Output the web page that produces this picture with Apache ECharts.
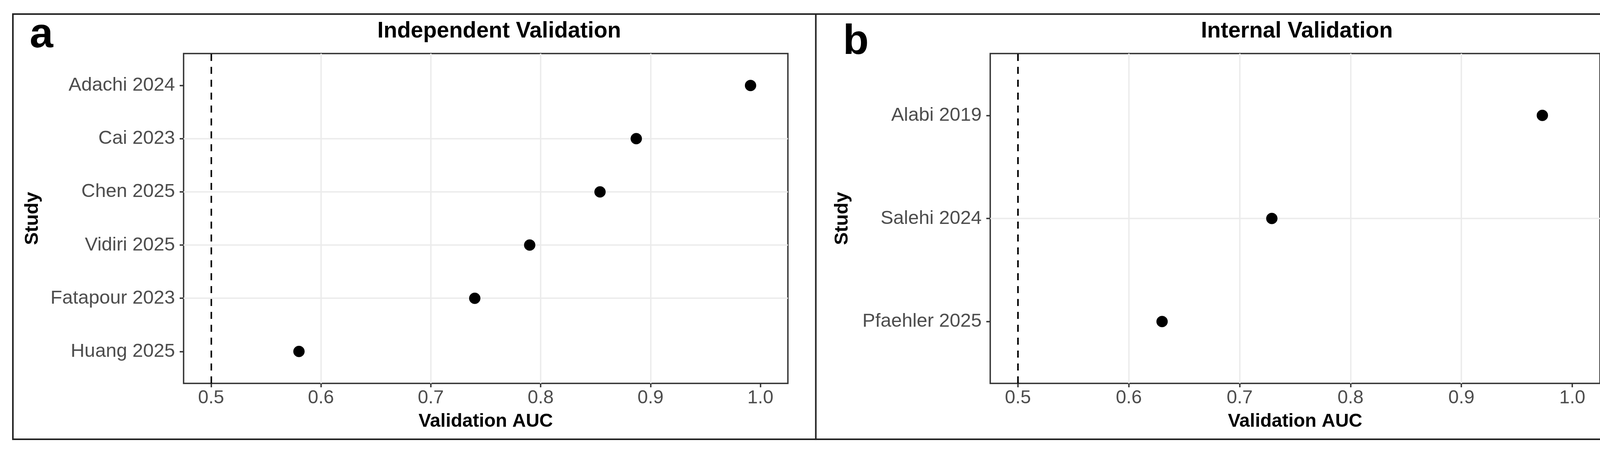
<!DOCTYPE html>
<html>
<head>
<meta charset="utf-8">
<script src="https://cdn.jsdelivr.net/npm/echarts@6/dist/echarts.min.js"></script>
<style>
  html, body { margin: 0; padding: 0; background: #fff; }
  #chart { width: 4176px; height: 1154px; }
</style>
</head>
<body>
<div id="chart"></div>
<script>
// panel a - independent validation (bottom to top)
var studiesA = ['Huang 2025', 'Fatapour 2023', 'Vidiri 2025', 'Chen 2025', 'Cai 2023', 'Adachi 2024'];
var aucA = [0.58, 0.74, 0.79, 0.854, 0.887, 0.991];
// panel b - internal validation (bottom to top)
var studiesB = ['Pfaehler 2025', 'Salehi 2024', 'Alabi 2019'];
var aucB = [0.63, 0.729, 0.973];

var aucTicks = [0.5, 0.6, 0.7, 0.8, 0.9, 1.0];
var refAuc = 0.5;
var titles = ['Independent Validation', 'Internal Validation'];
var tags = ['a', 'b'];

var FONT = 'Liberation Sans, Arial, Helvetica, sans-serif';
var chart = echarts.init(document.getElementById('chart'), null, { renderer: 'canvas' });

function makeX(gi) {
  return {
    type: 'value',
    gridIndex: gi,
    min: 0.475,
    max: 1.025,
    name: 'Validation AUC',
    nameLocation: 'middle',
    nameGap: 74,
    nameTextStyle: { fontFamily: FONT, fontSize: 48, fontWeight: 'bold', color: '#000' },
    axisLine: { show: false },
    axisTick: { show: true, length: 10, customValues: aucTicks, lineStyle: { color: '#333', width: 3.5 } },
    axisLabel: {
      customValues: aucTicks,
      margin: 14,
      fontFamily: FONT, fontSize: 48, color: '#4d4d4d',
      formatter: function (v) { return v.toFixed(1); }
    },
    splitLine: { show: true, showMinLine: false, showMaxLine: false, lineStyle: { color: '#ebebeb', width: 3.5 } }
  };
}

function makeY(gi, names, gap) {
  var idx = names.map(function (n, i) { return i + 1; });
  return {
    type: 'value',
    gridIndex: gi,
    min: 0.4,
    max: names.length + 0.6,
    name: 'Study',
    nameLocation: 'middle',
    nameGap: gap,
    nameTextStyle: { fontFamily: FONT, fontSize: 49, fontWeight: 'bold', color: '#000' },
    axisLine: { show: false },
    axisTick: { show: true, length: 10, customValues: idx, lineStyle: { color: '#333', width: 3.5 } },
    axisLabel: {
      customValues: idx,
      margin: 22,
      fontFamily: FONT, fontSize: 49, color: '#4d4d4d',
      formatter: function (v) { return names[Math.round(v) - 1] || ''; }
    },
    splitLine: { show: true, showMinLine: false, showMaxLine: false, lineStyle: { color: '#ebebeb', width: 3.5 } }
  };
}

function makeSeries(gi, vals) {
  return {
    type: 'scatter',
    xAxisIndex: gi,
    yAxisIndex: gi,
    symbol: 'circle',
    symbolSize: 29,
    itemStyle: { color: '#000', opacity: 1 },
    data: vals.map(function (v, i) { return [v, i + 1]; }),
    markLine: {
      silent: true,
      symbol: 'none',
      label: { show: false },
      lineStyle: { color: '#000', width: 4, type: [18, 15], opacity: 1 },
      data: [{ xAxis: refAuc }]
    }
  };
}

var option = {
  backgroundColor: '#fff',
  animation: false,
  title: [{
    text: titles[0],
    left: 1273, top: 47, textAlign: 'center',
    textStyle: { fontFamily: FONT, fontSize: 57, fontWeight: 'bold', color: '#000' }
  }, {
    text: titles[1],
    left: 3315, top: 47, textAlign: 'center',
    textStyle: { fontFamily: FONT, fontSize: 57, fontWeight: 'bold', color: '#000' }
  }],
  grid: [
    { left: 470, top: 137, width: 1547, height: 844, show: true, borderColor: '#333', borderWidth: 3.5, backgroundColor: 'transparent' },
    { left: 2535, top: 137, width: 1561, height: 844, show: true, borderColor: '#333', borderWidth: 3.5, backgroundColor: 'transparent' }
  ],
  xAxis: [makeX(0), makeX(1)],
  yAxis: [makeY(0, studiesA, 362), makeY(1, studiesB, 354)],
  series: [makeSeries(0, aucA), makeSeries(1, aucB)],
  graphic: [
    // outer frame and divider
    { type: 'rect', shape: { x: 33, y: 36, width: 4113, height: 1088 }, style: { fill: 'none', stroke: '#222', lineWidth: 4 }, z: 100 },
    { type: 'line', shape: { x1: 2088.5, y1: 36, x2: 2088.5, y2: 1124 }, style: { stroke: '#222', lineWidth: 4 }, z: 100 },
    { type: 'text', x: 76, y: 91, style: { text: tags[0], fontFamily: FONT, fontSize: 108, fontWeight: 'bold', fill: '#000', verticalAlign: 'middle' } },
    { type: 'text', x: 2158, y: 108, style: { text: tags[1], fontFamily: FONT, fontSize: 108, fontWeight: 'bold', fill: '#000', verticalAlign: 'middle' } }
  ]
};

chart.setOption(option);
</script>
</body>
</html>
